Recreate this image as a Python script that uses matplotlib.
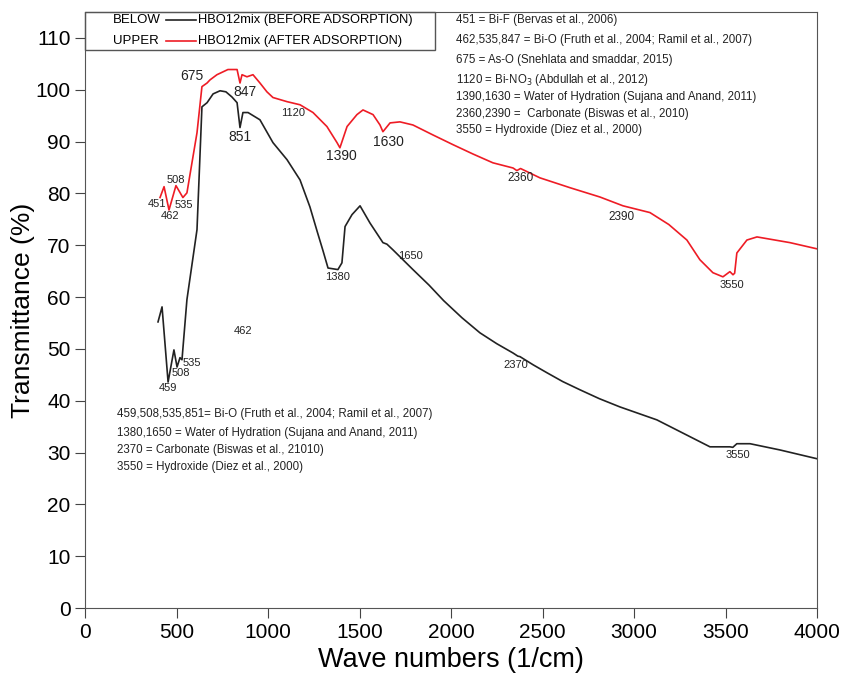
import numpy as np
import matplotlib.pyplot as plt
from matplotlib.patches import Rectangle
from matplotlib.lines import Line2D

plt.rcParams['font.family'] = ['Liberation Sans', 'DejaVu Sans']

# HBO12mix before adsorption (black)
before_wn = [399, 421, 454, 486, 503, 519, 530, 557, 612, 639, 667, 700, 738, 770,
             803, 831, 847, 863, 891, 956, 1027, 1104, 1175, 1229, 1270, 1300, 1328,
             1382, 1404, 1421, 1459, 1503, 1557, 1628, 1650, 1683, 1792, 1880, 1960,
             2060, 2158, 2250, 2339, 2365, 2377, 2450, 2524, 2610, 2705, 2810, 2923,
             3020, 3125, 3270, 3415, 3524, 3540, 3562, 3634, 3797, 4000]
before_t = [55.2, 58.1, 43.6, 49.8, 46.5, 48.3, 47.9, 59.5, 73.0, 96.7, 97.5, 99.2,
            99.8, 99.6, 98.6, 97.5, 92.7, 95.6, 95.6, 94.2, 89.8, 86.5, 82.6, 77.4,
            72.5, 69.0, 65.6, 65.3, 66.6, 73.6, 75.9, 77.6, 74.3, 70.5, 70.2, 69.1,
            65.3, 62.3, 59.3, 56.0, 53.1, 51.0, 49.2, 48.6, 48.5, 46.9, 45.4, 43.7,
            42.1, 40.4, 38.8, 37.6, 36.3, 33.7, 31.1, 31.1, 31.0, 31.7, 31.7, 30.5,
            28.8]

# HBO12mix after adsorption (red)
after_wn = [410, 432, 459, 497, 535, 557, 612, 639, 667, 683, 721, 781, 831, 847,
            858, 885, 918, 956, 994, 1027, 1104, 1175, 1246, 1322, 1377, 1393, 1432,
            1486, 1519, 1574, 1612, 1628, 1667, 1721, 1792, 1900, 2011, 2120, 2229,
            2339, 2360, 2380, 2486, 2650, 2814, 2940, 3087, 3190, 3289, 3360, 3431,
            3486, 3524, 3541, 3550, 3562, 3617, 3672, 3852, 4000]
after_t = [79.2, 81.3, 76.8, 81.5, 79.2, 80.1, 91.7, 100.6, 101.3, 101.9, 102.9,
           103.9, 103.9, 101.3, 102.9, 102.5, 102.9, 101.3, 99.6, 98.5, 97.7, 97.1,
           95.6, 92.9, 89.8, 88.8, 92.9, 95.2, 96.1, 95.2, 93.2, 91.9, 93.6, 93.8,
           93.2, 91.3, 89.4, 87.6, 85.9, 84.9, 84.4, 84.8, 83.0, 81.1, 79.3, 77.6,
           76.3, 74.0, 71.0, 67.2, 64.7, 63.9, 64.9, 64.3, 64.6, 68.5, 71.0, 71.6,
           70.5, 69.3]

# peak labels: (text, x, y, fontsize)
after_peaks = [("451", 393, 78.0, 8), ("462", 464, 75.7, 8), ("508", 497, 82.6, 8),
               ("535", 541, 77.8, 8), ("675", 585, 102.7, 10), ("847", 874, 99.6, 10),
               ("1120", 1137, 95.6, 8), ("1390", 1399, 87.3, 10), ("1630", 1656, 90.0, 10),
               ("2360", 2382, 83.0, 8.5), ("2390", 2934, 75.5, 8.5), ("3550", 3535, 62.4, 8)]
before_peaks = [("851", 847, 90.9, 10), ("1380", 1382, 63.9, 8), ("1650", 1776, 68.0, 8),
                ("459", 454, 42.5, 8), ("508", 525, 45.4, 8), ("535", 585, 47.3, 8),
                ("462", 863, 53.5, 8), ("2370", 2355, 46.9, 8), ("3550", 3568, 29.5, 8)]

upper_notes = ["451 = Bi-F (Bervas et al., 2006)",
               "462,535,847 = Bi-O (Fruth et al., 2004; Ramil et al., 2007)",
               "675 = As-O (Snehlata and smaddar, 2015)",
               "1120 = Bi-NO$_3$ (Abdullah et al., 2012)",
               "1390,1630 = Water of Hydration (Sujana and Anand, 2011)",
               "2360,2390 =  Carbonate (Biswas et al., 2010)",
               "3550 = Hydroxide (Diez et al., 2000)"]
upper_rows = [20, 40, 60, 80, 97, 114, 130]
lower_notes = ["459,508,535,851= Bi-O (Fruth et al., 2004; Ramil et al., 2007)",
               "1380,1650 = Water of Hydration (Sujana and Anand, 2011)",
               "2370 = Carbonate (Biswas et al., 21010)",
               "3550 = Hydroxide (Diez et al., 2000)"]
lower_rows = [414, 433, 450, 467]

fig = plt.figure(figsize=(8.43, 6.77), dpi=100)
ax = fig.add_axes([85 / 843, 69 / 677, 732 / 843, 596 / 677])

ax.plot(before_wn, before_t, color="#222222", lw=1.2)
ax.plot(after_wn, after_t, color="#ee1c25", lw=1.2)

for txt, x, y, fs in after_peaks + before_peaks:
    ax.text(x, y, txt, fontsize=fs, ha="center", va="center", color="#222222")

ax.set_xlim(0, 4000)
ax.set_ylim(0, 115)
ax.set_xticks(np.arange(0, 4001, 500))
ax.set_yticks(np.arange(0, 111, 10))
ax.tick_params(axis="both", direction="out", length=7, labelsize=15,
               color="#444444", top=False, right=False)
for s in ax.spines.values():
    s.set_color("#555555")
ax.set_xlabel("Wave numbers (1/cm)", fontsize=19.5, labelpad=4)
ax.set_ylabel("Transmittance (%)", fontsize=19, labelpad=0)


def fy(py):
    # pixel row -> axes fraction
    return (608 - py) / 596


for txt, py in zip(upper_notes, upper_rows):
    ax.text((456 - 85) / 732, fy(py), txt, transform=ax.transAxes,
            fontsize=8.3, va="center", ha="left", color="#222222")
for txt, py in zip(lower_notes, lower_rows):
    ax.text((117 - 85) / 732, fy(py), txt, transform=ax.transAxes,
            fontsize=8.3, va="center", ha="left", color="#222222")

# legend box
ax.add_patch(Rectangle((0, fy(50)), (435 - 85) / 732, 1 - fy(50),
                       transform=ax.transAxes, fill=False, ec="#555555", lw=1, clip_on=False))
for lab, desc, col, py in [("BELOW", "HBO12mix (BEFORE ADSORPTION)", "#222222", 20),
                           ("UPPER", "HBO12mix (AFTER ADSORPTION)", "#ee1c25", 41)]:
    ax.text((113 - 85) / 732, fy(py), lab, transform=ax.transAxes,
            fontsize=9.5, va="center", ha="left")
    ax.add_line(Line2D([(166 - 85) / 732, (196 - 85) / 732], [fy(py), fy(py)],
                       transform=ax.transAxes, color=col, lw=1.2))
    ax.text((198 - 85) / 732, fy(py), desc, transform=ax.transAxes,
            fontsize=9.3, va="center", ha="left")

fig.savefig("out.png", dpi=100)
